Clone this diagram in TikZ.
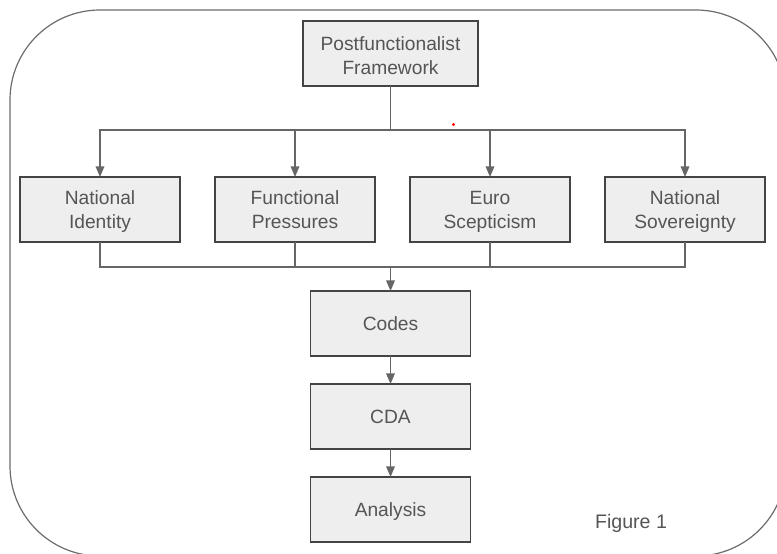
\documentclass[tikz,border=0pt]{standalone}
\usepackage{fontspec}
\setmainfont{Liberation Sans}
\usetikzlibrary{arrows.meta}
\definecolor{boxfill}{HTML}{EEEEEE}
\definecolor{boxline}{HTML}{444444}
\definecolor{textgray}{HTML}{555555}
\definecolor{linegray}{HTML}{666666}
\begin{document}
\begin{tikzpicture}[x=0.75pt,y=-0.75pt]
  \tikzset{BoxStyle/.style = {
    shape         = rectangle,
    draw          = boxline,
    fill          = boxfill,
    line width    = 1pt,
    text          = textgray,
    align         = center,
    inner sep     = 1pt,
    outer sep     = 0pt,
    minimum width = 120pt,
    minimum height= 48.75pt,
    text height   = 15.1pt,
    text depth    = 5.3pt,
    font          = \fontsize{14.4}{17.7}\selectfont
    }
  }
  \tikzset{TwoLineStyle/.style = {
    BoxStyle,
    text height   = 33.5pt
    }
  }
  \tikzset{EdgeStyle/.style = {
    draw          = linegray,
    line width    = 1pt
    }
  }
  \tikzset{ArrowStyle/.style = {
    EdgeStyle,
    -{Triangle[length=8pt,width=6.5pt]}
    }
  }
  \useasboundingbox (0,0) rectangle (777,553);
  \draw[draw=gray!85!black, line width=0.9pt, rounded corners=67.5pt] (10,10) rectangle (786,556);

	\node[TwoLineStyle, minimum width=131.25pt, text height=36.5pt](A1) at (390.5, 53.5) {Postfunctionalist\\Framework};
	\node[TwoLineStyle](B1) at (100, 209.5) {National\\Identity};
	\node[TwoLineStyle](B2) at (295, 209.5) {Functional\\Pressures};
	\node[TwoLineStyle](B3) at (490, 209.5) {Euro\\Scepticism};
	\node[TwoLineStyle](B4) at (685, 209.5) {National\\Sovereignty};
	\node[BoxStyle](C1) at (390.5, 323.5) {Codes};
	\node[BoxStyle](C2) at (390.5, 416.5) {CDA};
	\node[BoxStyle](C3) at (390.5, 509.5) {Analysis};
	\node[text=textgray, font=\fontsize{14.7}{17}\selectfont](F1) at (631, 523) {Figure 1};
	\coordinate (J1) at (390.5, 130);
	\coordinate (J2) at (390.5, 267);
	\draw[EdgeStyle](A1) to (J1);
	\draw[ArrowStyle](J1) -| (B1);
	\draw[ArrowStyle](J1) -| (B2);
	\draw[ArrowStyle](J1) -| (B3);
	\draw[ArrowStyle](J1) -| (B4);
	\draw[EdgeStyle](B1) |- (J2);
	\draw[EdgeStyle](B2) |- (J2);
	\draw[EdgeStyle](B3) |- (J2);
	\draw[EdgeStyle](B4) |- (J2);
	\draw[ArrowStyle](J2) to (C1);
	\draw[ArrowStyle](C1) to (C2);
	\draw[ArrowStyle](C2) to (C3);
	\fill[red] (453.5, 124.5) circle (1.2pt);

  \end{tikzpicture}
\end{document}
